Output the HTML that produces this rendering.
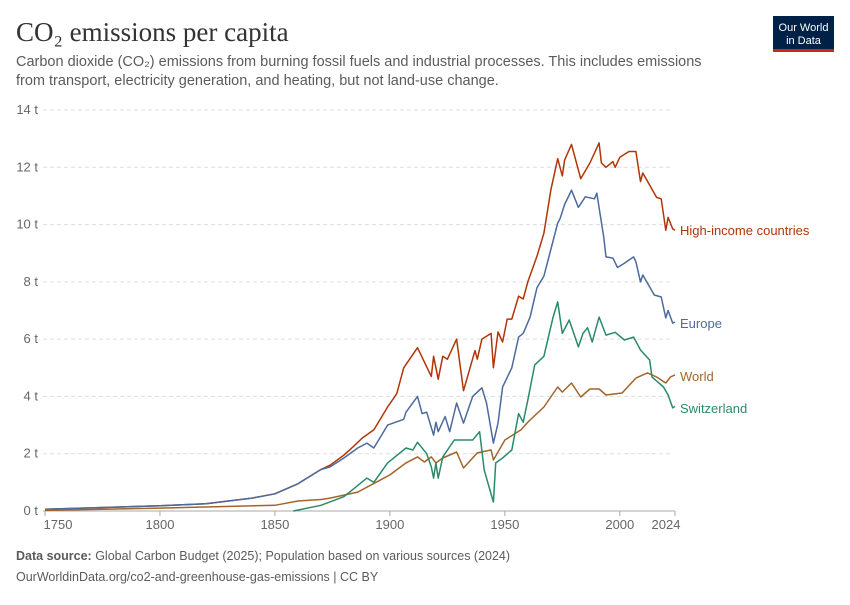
<!DOCTYPE html>
<html><head><meta charset="utf-8">
<style>
body{margin:0;background:#fff;width:850px;height:600px;overflow:hidden;font-family:"Liberation Sans",sans-serif}
svg text{font-family:"Liberation Sans",sans-serif}
</style></head>
<body>
<svg id="chart" width="850" height="600" viewBox="0 0 850 600">
<text x="16" y="41" style="font-family:'Liberation Serif',serif" font-size="27" fill="#333">CO₂ emissions per capita</text>
<text x="16" y="66" font-size="14.5" fill="#5b5b5b">Carbon dioxide (CO₂) emissions from burning fossil fuels and industrial processes. This includes emissions</text>
<text x="16" y="85" font-size="14.5" fill="#5b5b5b">from transport, electricity generation, and heating, but not land-use change.</text>
<g>
<rect x="773" y="16" width="61" height="36" fill="#002147"/>
<rect x="773" y="49" width="61" height="3" fill="#ce261e"/>
<text x="803.5" y="31" font-size="11" fill="#fff" text-anchor="middle">Our World</text>
<text x="803.5" y="44" font-size="11" fill="#fff" text-anchor="middle">in Data</text>
</g>
<g id="grid"></g><g id="axes"></g><g id="series"></g>
<text x="16" y="560" font-size="12.5" fill="#5b5b5b"><tspan font-weight="bold">Data source:</tspan> Global Carbon Budget (2025); Population based on various sources (2024)</text>
<text x="16" y="581" font-size="12.5" fill="#5b5b5b">OurWorldinData.org/co2-and-greenhouse-gas-emissions | CC BY</text>
</svg>
<script>
const yTicks=[0,2,4,6,8,10,12,14];
const xTicks=[1750,1800,1850,1900,1950,2000,2024];
const seriesNames=["High-income countries","Europe","World","Switzerland"];
const hiYears=[1750,1800,1820,1840,1850,1860,1865,1870,1874,1880,1884,1888,1893,1899,1903,1906,1912,1918,1919,1921,1923,1925,1929,1932,1937,1938,1940,1944,1945,1947,1949,1951,1953,1956,1958,1960,1964,1967,1970,1973,1975,1976,1979,1983,1987,1991,1992,1994,1997,1998,2000,2004,2007,2009,2010,2016,2018,2020,2021,2023,2024];
const hiVals=[0.06,0.18,0.25,0.45,0.6,0.95,1.2,1.45,1.6,1.95,2.24,2.55,2.83,3.63,4.1,5.0,5.7,4.7,5.4,4.6,5.4,5.3,6.0,4.2,5.6,5.3,6.0,6.2,5.0,6.25,5.9,6.7,6.7,7.5,7.4,8.0,8.9,9.7,11.2,12.3,11.7,12.25,12.8,11.6,12.15,12.85,12.15,12.0,12.2,12.0,12.35,12.55,12.55,11.5,11.8,10.95,10.9,9.8,10.25,9.85,9.8];
const euYears=[1750,1800,1820,1840,1850,1860,1865,1870,1874,1880,1886,1890,1893,1899,1906,1907,1912,1914,1916,1919,1920,1921,1924,1926,1929,1932,1936,1940,1942,1945,1947,1949,1953,1956,1958,1961,1964,1967,1973,1974,1976,1979,1982,1985,1989,1990,1993,1994,1997,1999,2002,2006,2007,2009,2010,2015,2018,2020,2021,2023,2024];
const euVals=[0.06,0.18,0.25,0.45,0.6,0.95,1.2,1.45,1.54,1.85,2.2,2.37,2.2,3.0,3.2,3.45,4.0,3.4,3.45,2.65,3.1,2.77,3.3,2.77,3.77,3.07,4.0,4.3,3.77,2.37,3.07,4.33,5.0,6.07,6.2,6.77,7.8,8.2,10.05,10.2,10.7,11.2,10.6,10.97,10.9,11.1,9.57,8.87,8.83,8.5,8.65,8.87,8.7,8.0,8.24,7.54,7.47,6.74,7.0,6.56,6.6];
const wYears=[1750,1800,1850,1860,1870,1874,1886,1900,1907,1912,1915,1918,1920,1923,1929,1932,1938,1944,1945,1950,1957,1960,1967,1973,1975,1979,1983,1987,1991,1994,2001,2007,2012,2016,2020,2022,2024];
const wVals=[0.02,0.1,0.2,0.35,0.4,0.45,0.66,1.26,1.68,1.89,1.71,1.89,1.68,1.85,2.06,1.5,2.03,2.13,1.78,2.48,2.83,3.1,3.63,4.33,4.15,4.47,3.98,4.26,4.26,4.05,4.12,4.64,4.82,4.68,4.47,4.68,4.75];
const chYears=[1858,1870,1880,1890,1893,1899,1907,1910,1912,1916,1918,1919,1920,1921,1923,1928,1936,1939,1941,1945,1946,1949,1953,1956,1958,1960,1963,1967,1971,1973,1975,1978,1982,1984,1986,1988,1991,1994,1998,2002,2006,2009,2013,2014,2019,2021,2023,2024];
const chVals=[0,0.2,0.5,1.15,1.0,1.68,2.2,2.13,2.4,2.0,1.54,1.15,1.68,1.15,1.89,2.48,2.48,2.77,1.43,0.31,1.68,1.85,2.13,3.4,3.1,3.87,5.1,5.4,6.77,7.3,6.2,6.67,5.73,6.2,6.4,5.9,6.77,6.14,6.24,5.97,6.07,5.62,5.27,4.68,4.33,4.05,3.6,3.65];
const colors=["#b13507","#4c6a9c","#a2652a","#2a8a6a"];
const ns="http://www.w3.org/2000/svg";
const x0=45,x1=675,y0=511,y1=110;
const xS=y=>x0+(y-1750)/(2024-1750)*(x1-x0);
const yS=v=>y0-v/14*(y0-y1);
function mk(t,a,p){const e=document.createElementNS(ns,t);for(const k in a)e.setAttribute(k,a[k]);p.appendChild(e);return e;}
const grid=document.getElementById('grid'),axes=document.getElementById('axes'),ser=document.getElementById('series');
yTicks.forEach(v=>{
 if(v>0){const l=mk('line',{x1:43,x2:672,y1:yS(v),y2:yS(v),stroke:'#ddd','stroke-dasharray':'4,3'},grid);
 
 }
 const t=mk('text',{x:38,y:yS(v)+4,'font-size':'13','fill':'#666','text-anchor':'end'},axes);t.textContent=v+' t';
 
 
});
const base=mk('line',{x1:43,x2:675,y1:y0,y2:y0,stroke:'#aaa'},axes);


xTicks.forEach(yr=>{
 const tk=mk('line',{x1:xS(yr),x2:xS(yr),y1:y0,y2:y0+5,stroke:'#aaa'},axes);
 
 
 const lx=yr===1750?58:(yr===2024?xS(yr)-9:xS(yr));
 const t=mk('text',{x:lx,y:y0+18,'font-size':'13','fill':'#666','text-anchor':'middle'},axes);t.textContent=yr;
 
 
});
const all=[[hiYears,hiVals],[euYears,euVals],[wYears,wVals],[chYears,chVals]];
const labelY=[235,328,381,413];
all.forEach((s,i)=>{
 const d=s[0].map((yr,j)=>(j?'L':'M')+xS(yr).toFixed(1)+','+yS(s[1][j]).toFixed(1)).join('');
 const p=mk('path',{d:d,fill:'none',stroke:colors[i],'stroke-width':1.5,'stroke-linejoin':'round'},ser);
 
 
 const t=mk('text',{x:680,y:labelY[i],'font-size':'13','fill':colors[i]},ser);t.textContent=seriesNames[i];
 
 
});
</script>
</body></html>
